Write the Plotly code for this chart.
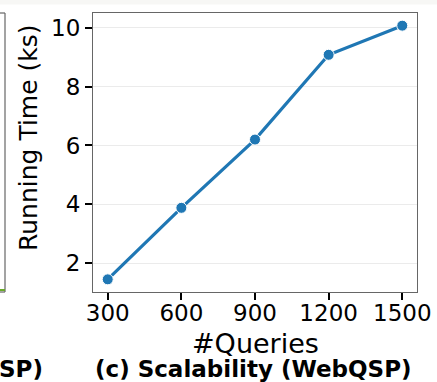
import plotly.graph_objects as go

queries = [300, 600, 900, 1200, 1500]
running_time_ks = [1.45, 3.88, 6.2, 9.08, 10.07]
x_ticks = [300, 600, 900, 1200, 1500]
y_ticks = [2, 4, 6, 8, 10]

W, H = 437, 382
L, R, T, B = 93, 20, 13, 90
pw = W - L - R
ph = H - T - B

def px_x(p):
    return (p - L) / pw

def px_y(p):
    return 1 - (p - T) / ph

fig = go.Figure()
fig.add_trace(go.Scatter(
    x=queries, y=running_time_ks, mode="lines+markers",
    line=dict(color="#1f77b4", width=3.2),
    marker=dict(size=11, color="#1f77b4", line=dict(color="white", width=1)),
    showlegend=False, cliponaxis=False,
))

font_family = "DejaVu Sans"
fig.update_layout(
    width=W, height=H,
    margin=dict(l=L, r=R, t=T, b=B, autoexpand=False),
    paper_bgcolor="white", plot_bgcolor="white",
    font=dict(family=font_family, color="black"),
    xaxis=dict(
        range=[240, 1560], tickvals=x_ticks, ticktext=[str(v) for v in x_ticks],
        ticks="outside", ticklen=7, tickwidth=1.5, tickcolor="black",
        tickfont=dict(size=23, family=font_family), ticklabelstandoff=-7,
        showgrid=False, zeroline=False,
        showline=True, linecolor="#666666", linewidth=1.2, mirror=True,
    ),
    yaxis=dict(
        range=[1.02, 10.5], tickvals=y_ticks, ticktext=[str(v) for v in y_ticks],
        ticks="outside", ticklen=7, tickwidth=1.5, tickcolor="black",
        tickfont=dict(size=23, family=font_family),
        showgrid=True, gridcolor="#ebebeb", gridwidth=1, zeroline=False,
        showline=True, linecolor="#666666", linewidth=1.2, mirror=True,
    ),
)

# axis titles placed as annotations for precise positioning
fig.add_annotation(text="#Queries", xref="paper", yref="paper",
                   x=px_x(255), y=px_y(343), showarrow=False,
                   font=dict(size=27, family=font_family), xanchor="center", yanchor="middle")
fig.add_annotation(text="Running Time (ks)", xref="paper", yref="paper",
                   x=px_x(28), y=px_y(138), showarrow=False, textangle=-90,
                   font=dict(size=25, family=font_family), xanchor="center", yanchor="middle")

# top light band (page strip)
fig.add_shape(type="rect", xref="paper", yref="paper",
              x0=px_x(0), x1=px_x(W), y0=px_y(4.5), y1=px_y(0),
              fillcolor="#f7f7f5", line=dict(width=0), layer="below")

# fragment of neighbouring panel on the left
fig.add_shape(type="line", xref="paper", yref="paper",
              x0=px_x(5), x1=px_x(5), y0=px_y(13), y1=px_y(292),
              line=dict(color="#666666", width=1.2))
fig.add_shape(type="line", xref="paper", yref="paper",
              x0=px_x(0), x1=px_x(5), y0=px_y(13), y1=px_y(13),
              line=dict(color="#666666", width=1.2))
fig.add_shape(type="line", xref="paper", yref="paper",
              x0=px_x(0), x1=px_x(5), y0=px_y(292), y1=px_y(292),
              line=dict(color="#666666", width=1.2))
fig.add_shape(type="line", xref="paper", yref="paper",
              x0=px_x(0), x1=px_x(5), y0=px_y(290), y1=px_y(290),
              line=dict(color="#6aaa2a", width=2))

fig.add_annotation(text="<b>(c) Scalability (WebQSP)</b>", xref="paper", yref="paper",
                   x=px_x(253), y=px_y(369), showarrow=False,
                   font=dict(size=23, family=font_family), xanchor="center", yanchor="middle")
fig.add_annotation(text="<b>SP)</b>", xref="paper", yref="paper",
                   x=px_x(-3), y=px_y(369), showarrow=False,
                   font=dict(size=23, family=font_family), xanchor="left", yanchor="middle")

fig.write_html("out.html", config={"displayModeBar": False},
               post_script="document.body.style.margin='0';document.body.style.overflow='hidden';")
